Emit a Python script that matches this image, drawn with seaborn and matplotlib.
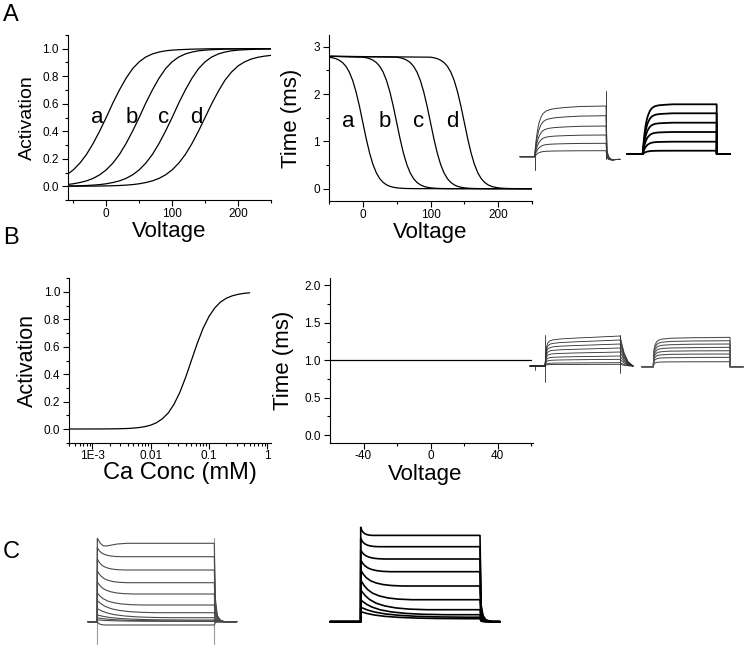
import numpy as np
import pandas as pd
import matplotlib
matplotlib.use("Agg")
import matplotlib.pyplot as plt
import seaborn as sns
from matplotlib.ticker import MultipleLocator, FixedLocator, FixedFormatter, NullFormatter

# ---------------------------------------------------------------- data
curve_names = ["a", "b", "c", "d"]

# Panel A left: steady-state activation vs voltage
act_voltage = [-60, -50, -40, -30, -20, -10, 0, 10, 20, 30, 40, 50, 60, 70, 80, 90,
               100, 110, 120, 130, 140, 150, 160, 170, 180, 190, 200, 210, 220, 230, 240, 250]
act_a = [0.083, 0.119, 0.168, 0.231, 0.310, 0.401, 0.500, 0.605, 0.700, 0.785, 0.855, 0.905,
         0.940, 0.962, 0.976, 0.985, 0.990, 0.993, 0.995, 0.997, 0.998, 0.999, 1.0, 1.0,
         1.0, 1.0, 1.0, 1.0, 1.0, 1.0, 1.0, 1.0]
act_b = [0.012, 0.018, 0.027, 0.039, 0.057, 0.083, 0.119, 0.168, 0.231, 0.310, 0.401, 0.500,
         0.605, 0.700, 0.785, 0.855, 0.905, 0.940, 0.962, 0.976, 0.985, 0.990, 0.993, 0.995,
         0.997, 0.998, 0.999, 1.0, 1.0, 1.0, 1.0, 1.0]
act_c = [0.0017, 0.0025, 0.0037, 0.0055, 0.0082, 0.012, 0.018, 0.027, 0.039, 0.057, 0.083,
         0.119, 0.168, 0.231, 0.310, 0.401, 0.500, 0.605, 0.700, 0.785, 0.855, 0.905, 0.940,
         0.962, 0.976, 0.985, 0.990, 0.993, 0.995, 0.997, 0.998, 0.999]
act_d = [0.0002, 0.0003, 0.0005, 0.0008, 0.0011, 0.0017, 0.0025, 0.0037, 0.0055, 0.0082,
         0.012, 0.018, 0.027, 0.039, 0.057, 0.083, 0.119, 0.168, 0.231, 0.310, 0.401, 0.500,
         0.600, 0.690, 0.770, 0.830, 0.875, 0.905, 0.925, 0.938, 0.946, 0.952]
act_label_voltage = [-14, 39, 87, 137]
act_label_level = [0.5, 0.5, 0.5, 0.5]

# Panel A right: time constant vs voltage
tau_voltage_a = [-50, -45, -40, -35, -30, -25, -20, -15, -10, -5, 0, 5, 10, 15, 20, 25, 30,
                 35, 40, 45, 50, 55, 60, 65, 70, 75, 80, 250]
tau_a = [2.781, 2.769, 2.750, 2.718, 2.667, 2.588, 2.466, 2.289, 2.047, 1.743, 1.400, 1.057,
         0.753, 0.511, 0.334, 0.212, 0.133, 0.082, 0.050, 0.031, 0.019, 0.011, 0.007, 0.004,
         0.003, 0.002, 0.001, 0.0]
tau_voltage_b = [-50, 0, 5, 10, 15, 20, 25, 30, 35, 40, 45, 50, 55, 60, 65, 70, 75, 80, 85,
                 90, 95, 100, 105, 110, 115, 120, 125, 130, 250]
tau_b = [2.8, 2.781, 2.769, 2.750, 2.718, 2.667, 2.588, 2.466, 2.289, 2.047, 1.743, 1.400,
         1.057, 0.753, 0.511, 0.334, 0.212, 0.133, 0.082, 0.050, 0.031, 0.019, 0.011, 0.007,
         0.004, 0.003, 0.002, 0.001, 0.0]
tau_voltage_c = [-50, 50, 55, 60, 65, 70, 75, 80, 85, 90, 95, 100, 105, 110, 115, 120, 125,
                 130, 135, 140, 145, 150, 155, 160, 165, 170, 175, 180, 250]
tau_c = list(tau_b)
tau_voltage_d = [-50, 100, 105, 110, 115, 120, 125, 130, 135, 140, 145, 150, 155, 160, 165,
                 170, 175, 180, 185, 190, 195, 200, 205, 210, 215, 220, 225, 230, 250]
tau_d = list(tau_b)
tau_label_voltage = [-21, 33, 82, 132]
tau_label_level = [1.42, 1.42, 1.42, 1.42]

# Panel B left: activation vs Ca concentration
ca_conc = [0.0004, 0.0006, 0.001, 0.0016, 0.0025, 0.004, 0.005, 0.0063, 0.0079, 0.01,
           0.0126, 0.0158, 0.02, 0.0251, 0.0316, 0.0398, 0.05, 0.063, 0.0794, 0.1, 0.126,
           0.158, 0.2, 0.251, 0.316, 0.398, 0.5]
ca_act = [0.00002, 0.00005, 0.0002, 0.0005, 0.0014, 0.0038, 0.0063, 0.0104, 0.0172, 0.028,
          0.046, 0.074, 0.117, 0.180, 0.267, 0.377, 0.500, 0.625, 0.735, 0.821, 0.884,
          0.927, 0.955, 0.972, 0.983, 0.990, 0.994]

# Panel B right: constant time constant
flat_voltage = [-60, 60]
flat_tau = [1.0, 1.0]

# Current traces (time after step onset, amplitude above holding level; arbitrary units)
A_exp_levels = [50.7, 41.0, 30.7, 21.7, 13.4, 6.0]
A_exp_rise_t = [0, 1, 2, 3, 4, 6, 8, 11, 15, 20, 30, 45, 71]
A_exp_rise_f = [0.1, 0.3, 0.45, 0.57, 0.66, 0.78, 0.85, 0.9, 0.93, 0.95, 0.97, 0.99, 1.0]
A_exp_tail_t = [0, 1, 3, 6, 10, 14]
A_exp_tail_f = [1, 0.15, 0.05, 0, 0, 0]
A_exp_tail_shift = [0, -2.0, -3.2, -3.2, -2.8, -2.7]
A_exp_on_spike = [0, -13.3]
A_exp_off_spike = [65.7, -2.0]

A_mod_levels = [49.7, 40.7, 31.3, 22.0, 12.3, 3.3]
A_mod_rise_t = [0, 1, 2, 3, 4, 5, 7, 9, 12, 16, 22, 30, 74]
A_mod_rise_f = [0, 0.25, 0.44, 0.58, 0.68, 0.76, 0.86, 0.92, 0.96, 0.98, 0.99, 1.0, 1.0]

B_exp_levels = [30.0, 26.0, 22.0, 18.0, 14.0, 10.0, 6.7, 3.3, 1.7]
B_exp_rise_t = [0, 1, 2, 3, 5, 8, 15, 30, 50, 75]
B_exp_rise_f = [0, 0.5, 0.7, 0.78, 0.84, 0.87, 0.9, 0.93, 0.96, 1.0]
B_exp_tail_t = [0, 4, 8, 13]
B_exp_tail_f = [1, 0.45, 0.15, 0]
B_exp_pre_spike = [0, -4.0]
B_exp_on_spike = [31.0, -15.7]
B_exp_off_spike = [31.0, -7.0]

B_mod_levels = [29.3, 26.0, 22.7, 19.3, 16.0, 12.7, 9.3, 5.0]
B_mod_rise_t = [0, 0.7, 1.5, 3.3, 5, 8.3, 16.7, 40, 76.7]
B_mod_rise_f = [0, 0.57, 0.72, 0.85, 0.9, 0.94, 0.97, 0.99, 1.0]

C_exp_levels = [78.4, 65.0, 51.7, 39.0, 27.7, 16.7, 9.0, 4.0, 1.7, 0.8, 0.3, -3.3]
C_exp_over = [1.0, 9, 11, 12, 12, 12, 12, 9, 5, 3, 1.5, 3.3]
C_exp_scale = [1.0, 0.8, 0.9, 1.0, 1.2, 1.5, 2.0, 2.5, 3.0, 3.0, 3.0, 0.3]
C_exp_decay_t = [0, 2, 4, 7, 11, 16, 22, 30]
C_exp_decay_f = [1, 0.72, 0.52, 0.33, 0.19, 0.09, 0.03, 0]
C_exp_top_t = [0, 3, 6, 9, 14, 20, 30]
C_exp_top_f = [5, 0, -2.5, -2.7, -1.8, -0.7, 0]
C_exp_tail_t = [0, 1, 3, 6, 10]
C_exp_tail_f = [1, 0.3, 0.08, 0.02, 0]
C_exp_step_marks = [83.4, -22.0]

C_mod_levels = [86.3, 75.0, 62.7, 50.0, 35.7, 22.0, 12.0, 7.0, 4.5, 3.0]
C_mod_over = [8.1, 8.4, 9.0, 11.7, 16.0, 19.7, 19.7, 14.7, 9.9, 7.0]
C_mod_scale = [0.4, 0.6, 0.8, 1.0, 1.4, 1.7, 2.2, 2.8, 3.5, 3.5]
C_mod_tail_t = [0, 1, 3, 6, 12]
C_mod_tail_f = [1, 0.2, 0.07, 0.02, 0]

# ---------------------------------------------------------------- style
sns.set_theme(style="ticks")
plt.rcParams["font.family"] = ["Liberation Sans", "DejaVu Sans"]
plt.rcParams.update({"axes.edgecolor": "black", "xtick.color": "black",
                     "ytick.color": "black", "axes.labelcolor": "black",
                     "text.color": "black", "axes.facecolor": "none",
                     "axes.unicode_minus": False})

W, H = 747, 648
fig = plt.figure(figsize=(W / 100, H / 100), dpi=100)
fig.patch.set_facecolor("white")


def px_axes(x0, y0, x1, y1):
    return fig.add_axes([x0 / W, 1 - y1 / H, (x1 - x0) / W, (y1 - y0) / H])


def style(ax):
    sns.despine(ax=ax)
    for s in ["left", "bottom"]:
        ax.spines[s].set_linewidth(0.8)
    ax.tick_params(which="major", direction="out", length=4.5, width=0.8,
                   labelsize=8.5, pad=2)
    ax.tick_params(which="minor", direction="out", length=2.5, width=0.8)
    ax.tick_params(axis="x", which="major", pad=1)


def line(ax, x, y, color="black", lw=0.9):
    df = pd.DataFrame({"x": x, "y": y})
    sns.lineplot(data=df, x="x", y="y", sort=False, estimator=None, ax=ax,
                 color=color, lw=lw)


# ---------------------------------------------------------------- A left
ax = px_axes(68, 35, 271, 200)
df = pd.concat([pd.DataFrame({"V": act_voltage, "act": v, "curve": n})
                for n, v in zip(curve_names, [act_a, act_b, act_c, act_d])])
sns.lineplot(data=df, x="V", y="act", units="curve", estimator=None, color="black",
             lw=0.9, ax=ax)
for n, xv, yv in zip(curve_names, act_label_voltage, act_label_level):
    ax.text(xv, yv, n, fontsize=16, ha="center", va="center")
ax.set_xlim(-58, 250)
ax.set_ylim(-0.1, 1.1)
ax.xaxis.set_major_locator(FixedLocator([0, 100, 200]))
ax.xaxis.set_minor_locator(FixedLocator([-50, 50, 150, 250]))
ax.yaxis.set_major_locator(MultipleLocator(0.2))
ax.yaxis.set_minor_locator(MultipleLocator(0.1))
ax.yaxis.set_major_formatter(matplotlib.ticker.FormatStrFormatter("%.1f"))
style(ax)
ax.set_ylabel("Activation", fontsize=14)
ax.set_xlabel("Voltage", fontsize=16)
ax.yaxis.set_label_coords(-0.158, 0.5)
ax.xaxis.set_label_coords(0.5, -0.125)

# ---------------------------------------------------------------- A right
ax = px_axes(329, 35, 532, 201)
df = pd.concat([pd.DataFrame({"V": vv, "tau": tt, "curve": n})
                for n, vv, tt in zip(curve_names,
                                     [tau_voltage_a, tau_voltage_b, tau_voltage_c, tau_voltage_d],
                                     [tau_a, tau_b, tau_c, tau_d])])
sns.lineplot(data=df, x="V", y="tau", units="curve", estimator=None, color="black",
             lw=0.9, ax=ax)
for n, xv, yv in zip(curve_names, tau_label_voltage, tau_label_level):
    ax.text(xv, yv, n, fontsize=16, ha="center", va="center")
ax.set_xlim(-50, 250)
ax.set_ylim(-0.26, 3.25)
ax.xaxis.set_major_locator(FixedLocator([0, 100, 200]))
ax.xaxis.set_minor_locator(FixedLocator([-50, 50, 150, 250]))
ax.yaxis.set_major_locator(MultipleLocator(1))
ax.yaxis.set_minor_locator(MultipleLocator(0.5))
style(ax)
ax.set_ylabel("Time (ms)", fontsize=16)
ax.set_xlabel("Voltage", fontsize=16)
ax.yaxis.set_label_coords(-0.133, 0.5)
ax.xaxis.set_label_coords(0.5, -0.124)

# ---------------------------------------------------------------- B left
ax = px_axes(69.3, 278.3, 270.7, 442.7)
sns.lineplot(x=ca_conc, y=ca_act, color="black", lw=0.9, ax=ax, estimator=None)
ax.set_xscale("log")
ax.set_xlim(0.0004, 1.15)
ax.set_ylim(-0.1, 1.1)
ax.xaxis.set_major_locator(FixedLocator([0.001, 0.01, 0.1, 1]))
ax.xaxis.set_major_formatter(FixedFormatter(["1E-3", "0.01", "0.1", "1"]))
ax.xaxis.set_minor_locator(FixedLocator([m * d for d in [0.0001, 0.001, 0.01, 0.1]
                                         for m in range(2, 10)]))
ax.xaxis.set_minor_formatter(NullFormatter())
ax.yaxis.set_major_locator(MultipleLocator(0.2))
ax.yaxis.set_minor_locator(MultipleLocator(0.1))
ax.yaxis.set_major_formatter(matplotlib.ticker.FormatStrFormatter("%.1f"))
style(ax)
ax.set_ylabel("Activation", fontsize=15.5)
ax.set_xlabel("Ca Conc (mM)", fontsize=17)
ax.yaxis.set_label_coords(-0.158, 0.5)
ax.xaxis.set_label_coords(0.55, -0.12)

# ---------------------------------------------------------------- B right
ax = px_axes(330, 278, 532.7, 442.7)
sns.lineplot(x=flat_voltage, y=flat_tau, color="black", lw=0.9, ax=ax, estimator=None)
ax.set_xlim(-60, 61)
ax.set_ylim(-0.1, 2.1)
ax.xaxis.set_major_locator(FixedLocator([-40, 0, 40]))
ax.xaxis.set_minor_locator(FixedLocator([-20, 20, 60]))
ax.yaxis.set_major_locator(MultipleLocator(0.5))
ax.yaxis.set_minor_locator(MultipleLocator(0.25))
ax.yaxis.set_major_formatter(matplotlib.ticker.FormatStrFormatter("%.1f"))
style(ax)
ax.set_ylabel("Time (ms)", fontsize=16)
ax.set_xlabel("Voltage", fontsize=16)
ax.yaxis.set_label_coords(-0.18, 0.5)
ax.xaxis.set_label_coords(0.47, -0.131)


# ---------------------------------------------------------------- traces
def inset(x0, y0, x1, y1, onset_px, base_px):
    a = px_axes(x0, y0, x1, y1)
    a.set_xlim(x0 - onset_px, x1 - onset_px)
    a.set_ylim(base_px - y1, base_px - y0)
    a.axis("off")
    return a


def rise_trace(ax, level, pre, rt, rf, tail_t, tail_f, tail_shift, post, color, lw):
    dur = rt[-1]
    t = [pre, 0] + list(rt) + [dur + x for x in tail_t]
    v = [0, 0] + [level * f for f in rf] + [level * f + s for f, s in zip(tail_f, tail_shift)]
    if post is not None:
        t.append(post)
        v.append(v[-1])
    line(ax, t, v, color, lw)


def decay_trace(ax, level, over, scale, pre, pt, pf, dur, tail_t, tail_f, post, color, lw):
    t = [pre, 0] + [x * scale for x in pt] + [dur] + [dur + x for x in tail_t] + [post]
    v = [0, 0] + [level + over * f for f in pf] + [level] + [level * f for f in tail_f] + [0]
    line(ax, t, v, color, lw)


# A experimental
ax = inset(517, 85, 625, 175, 535, 156.7)
for lv in A_exp_levels:
    rise_trace(ax, lv, -15, A_exp_rise_t, A_exp_rise_f, A_exp_tail_t, A_exp_tail_f,
               A_exp_tail_shift, None, "#3a3a3a", 0.7)
line(ax, [0, 0], A_exp_on_spike, "#3a3a3a", 0.7)
line(ax, [71, 71], A_exp_off_spike, "#3a3a3a", 0.7)

# A model
ax = inset(625, 95, 735, 160, 642.7, 154)
for lv in A_mod_levels:
    rise_trace(ax, lv, -15.4, A_mod_rise_t, A_mod_rise_f, [0], [0], [0], 87.3, "black", 1.3)

# B experimental
ax = inset(527, 325, 637, 386, 545, 366)
for lv in B_exp_levels:
    rise_trace(ax, lv, -15, B_exp_rise_t, B_exp_rise_f, B_exp_tail_t, B_exp_tail_f,
               [0, 0, 0, 0], None, "#2a2a2a", 0.6)
line(ax, [-10, -10], B_exp_pre_spike, "#2a2a2a", 0.6)
line(ax, [0, 0], B_exp_on_spike, "#2a2a2a", 0.6)
line(ax, [75, 75], B_exp_off_spike, "#2a2a2a", 0.6)

# B model
ax = inset(638, 325, 746, 386, 653.3, 366.7)
for lv in B_mod_levels:
    rise_trace(ax, lv, -11.6, B_mod_rise_t, B_mod_rise_f, [0], [0], [0], 90, "#555555", 0.8)

# C experimental
ax = inset(85, 530, 240, 646, 97.3, 621.7)
line(ax, [0, 0], C_exp_step_marks, "#9a9a9a", 0.8)
line(ax, [117, 117], C_exp_step_marks, "#9a9a9a", 0.8)
for i, (lv, ov, sc) in enumerate(zip(C_exp_levels, C_exp_over, C_exp_scale)):
    if i == 0:
        decay_trace(ax, lv, ov, 1.0, -9.3, C_exp_top_t, C_exp_top_f, 117,
                    C_exp_tail_t, C_exp_tail_f, 139.4, "#4a4a4a", 0.8)
    else:
        decay_trace(ax, lv, ov, sc, -9.3, C_exp_decay_t, C_exp_decay_f, 117,
                    C_exp_tail_t, C_exp_tail_f, 139.4, "#4a4a4a", 0.8)

# C model
ax = inset(326, 520, 504, 630, 360.7, 621.7)
for lv, ov, sc in zip(C_mod_levels, C_mod_over, C_mod_scale):
    decay_trace(ax, lv, ov, sc, -30.7, C_exp_decay_t, C_exp_decay_f, 119.3,
                C_mod_tail_t, C_mod_tail_f, 139.3, "black", 1.2)

# ---------------------------------------------------------------- panel letters
for letter, ypx in [("A", 4), ("B", 227), ("C", 541)]:
    fig.text(3 / W, 1 - ypx / H, letter, fontsize=17, ha="left", va="top")

fig.savefig("out.png", dpi=100, facecolor="white")
